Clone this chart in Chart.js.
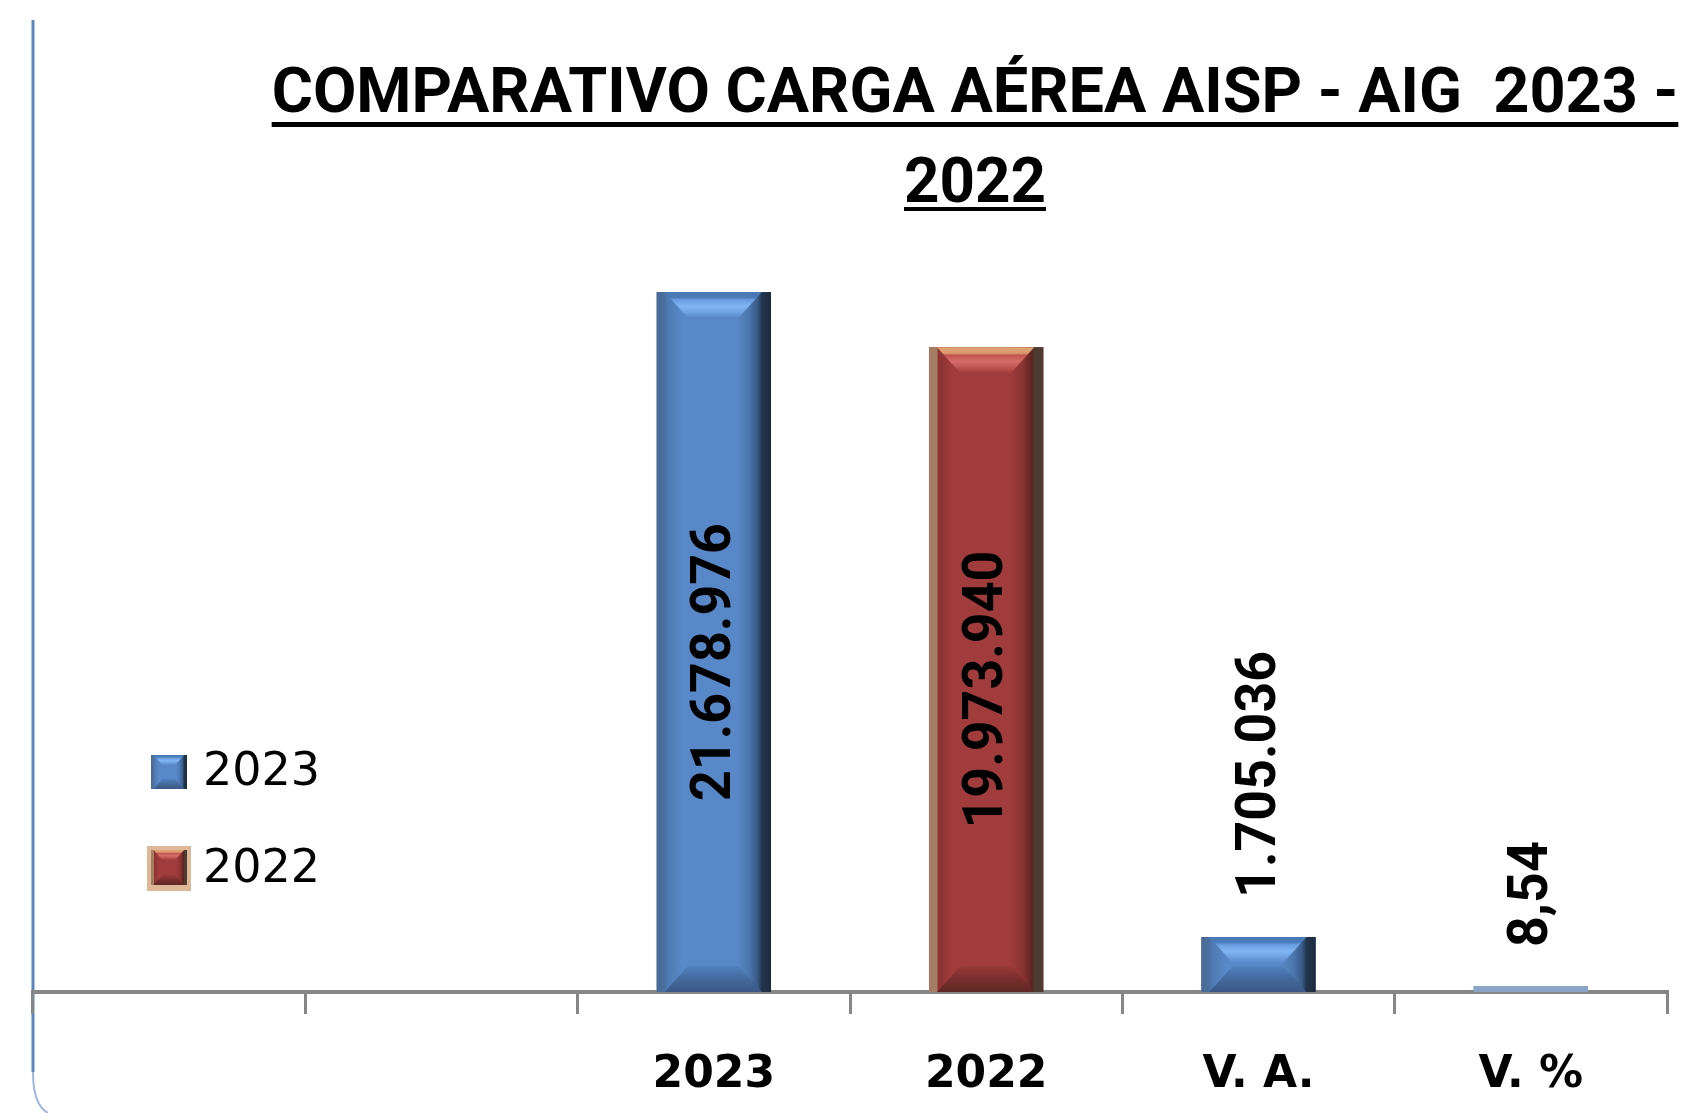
<!DOCTYPE html>
<html><head><meta charset="utf-8">
<script src="https://cdn.jsdelivr.net/npm/chart.js@4.4.1/dist/chart.umd.min.js"></script>
<style>html,body{margin:0;padding:0;background:#fff;overflow:hidden}#wrap{width:1687px;height:1113px;position:relative}canvas{display:block}</style>
</head><body><div id="wrap"><canvas id="c" width="1687" height="1113"></canvas></div>
<script>
// ---- data ----
const categories = ['', '', '2023', '2022', 'V. A.', 'V. %'];
const seriesLabels = ['2023', '2022'];
const series2023 = [null, null, 21678976, null, 1705036, 8.54];
const series2022 = [null, null, null, 19973940, null, null];
const titleLines = ['COMPARATIVO CARGA AÉREA AISP - AIG  2023 -', '2022'];

// ---- styles ----
const PALETTES = {
  blue: {stops:[[0,'#4a6a94'],[0.07,'#4b6f9f'],[0.1,'#4f7bb3'],[0.22,'#5888c8'],[0.7,'#5888c8'],[0.8,'#4d78b0'],[0.88,'#3a5c88'],[0.92,'#22344d'],[1,'#1e2b3e']],
         top:[[0,'#4a79b6'],[0.2,'#4a79b6'],[0.3,'#6a9ee0'],[0.55,'#80b4f3'],[0.8,'#6c9fe0'],[1,'#5888c8']],
         bottom:[[0,'#5181c0'],[0.5,'#44699c'],[1,'#3a5783']], thin:'#8aa5c8'},
  red: {stops:[[0,'#a27b62'],[0.07,'#a57d63'],[0.08,'#8a3230'],[0.2,'#a03c3c'],[0.7,'#a03c3c'],[0.82,'#8a3331'],[0.9,'#5c2321'],[0.92,'#4d3a30'],[1,'#4d3a30']],
        top:[[0,'#e0a675'],[0.22,'#dc9a70'],[0.32,'#c25650'],[0.55,'#d56c6a'],[0.8,'#bb5450'],[1,'#a03c3c']],
        bottom:[[0,'#9a3a3a'],[0.5,'#7a2e2c'],[1,'#5e2826']], thin:'#b06a6a'}
};
const datasetPalette = ['blue', 'red'];

function grad(ctx, x0, y0, x1, y1, stops){
  const g = ctx.createLinearGradient(x0, y0, x1, y1);
  stops.forEach(s => g.addColorStop(s[0], s[1]));
  return g;
}
function drawBevelBox(ctx, l, t, w, h, pal, bev){
  const p = PALETTES[pal];
  if (h < 8) {
    ctx.fillStyle = p.thin; ctx.fillRect(l, t, w, h); return;
  }
  ctx.fillStyle = grad(ctx, l, 0, l + w, 0, p.stops);
  ctx.fillRect(l, t, w, h);
  const b = Math.min(bev, h / 2, w / 3);
  ctx.beginPath();
  ctx.moveTo(l + w * 0.07, t); ctx.lineTo(l + w * 0.92, t);
  ctx.lineTo(l + w * 0.92 - b * 0.9, t + b); ctx.lineTo(l + w * 0.07 + b * 0.9, t + b);
  ctx.closePath();
  ctx.fillStyle = grad(ctx, 0, t, 0, t + b, p.top);
  ctx.fill();
  ctx.beginPath();
  ctx.moveTo(l + w * 0.07, t + h); ctx.lineTo(l + w * 0.92, t + h);
  ctx.lineTo(l + w * 0.92 - b * 0.9, t + h - b); ctx.lineTo(l + w * 0.07 + b * 0.9, t + h - b);
  ctx.closePath();
  ctx.fillStyle = grad(ctx, 0, t + h - b, 0, t + h, p.bottom);
  ctx.fill();
}

const numFmt = new Intl.NumberFormat('de-DE', {maximumFractionDigits: 2});

const framePlugin = {
  id: 'frame',
  beforeDraw(chart){
    const c = chart.ctx;
    c.save();
    c.fillStyle = '#ffffff';
    c.fillRect(0, 0, chart.width, chart.height);
    c.strokeStyle = '#5b87c0'; c.lineWidth = 3;
    c.beginPath(); c.moveTo(33, 20); c.lineTo(33, 1072); c.stroke();
    c.strokeStyle = '#9db8dc'; c.lineWidth = 2;
    c.beginPath(); c.moveTo(33, 1072); c.quadraticCurveTo(33, 1105, 48, 1113); c.stroke();
    c.restore();
  }
};

const titlePlugin = {
  id: 'ulTitle',
  afterDraw(chart){
    const c = chart.ctx;
    c.save();
    c.fillStyle = '#000';
    c.font = 'bold 63px Roboto';
    c.textAlign = 'center'; c.textBaseline = 'alphabetic';
    const cx = 975;
    const maxW = [1407, 142];
    const base = [112, 202];
    const ul = [[122, 5], [207, 4]];
    titleLines.forEach((line, i) => {
      const w = Math.min(c.measureText(line).width, maxW[i]);
      c.fillText(line, cx, base[i], maxW[i]);
      c.fillRect(cx - w / 2, ul[i][0], w, ul[i][1]);
    });
    c.restore();
  }
};

const barStylePlugin = {
  id: 'barStyle',
  afterDatasetsDraw(chart){
    const c = chart.ctx;
    c.save();
    chart.data.datasets.forEach((ds, di) => {
      const meta = chart.getDatasetMeta(di);
      meta.data.forEach((el, i) => {
        if (ds.data[i] === null || ds.data[i] === undefined) return;
        const p = el.getProps(['x', 'y', 'base', 'width'], true);
        const top = Math.min(p.y, p.base), h = Math.abs(p.base - p.y);
        drawBevelBox(c, p.x - p.width / 2, top, p.width, h, datasetPalette[di], 26);
      });
    });
    c.fillStyle = '#000';
    c.font = 'bold 56px Roboto';
    c.textBaseline = 'middle';
    chart.data.datasets.forEach((ds, di) => {
      const meta = chart.getDatasetMeta(di);
      meta.data.forEach((el, i) => {
        const v = ds.data[i];
        if (v === null || v === undefined) return;
        const p = el.getProps(['x', 'y', 'base', 'width'], true);
        const txt = numFmt.format(v);
        const tw = c.measureText(txt).width * 0.96;
        const top = Math.min(p.y, p.base), h = Math.abs(p.base - p.y);
        c.save();
        if (h > tw + 60) {
          c.translate(p.x + 2, top + h / 2 + 20);
          c.rotate(-Math.PI / 2);
          c.textAlign = 'center';
        } else {
          c.translate(p.x + 2, top - 39);
          c.rotate(-Math.PI / 2);
          c.textAlign = 'left';
        }
        c.fillText(txt, 0, 0, tw);
        c.restore();
      });
    });
    c.font = '46px "DejaVu Sans"';
    c.textAlign = 'left'; c.textBaseline = 'middle';
    chart.data.datasets.forEach((ds, di) => {
      const cy = 772 + di * 97;
      if (datasetPalette[di] === 'red') {
        c.fillStyle = '#dcb898';
        c.fillRect(147, cy - 23, 44, 45);
        drawBevelBox(c, 151, cy - 19, 36, 35, datasetPalette[di], 10);
      } else {
        drawBevelBox(c, 151, cy - 17, 36, 34, datasetPalette[di], 10);
      }
      c.fillStyle = '#000';
      c.fillText(ds.label, 203, cy + 1);
    });
    c.restore();
  }
};

new Chart(document.getElementById('c').getContext('2d'), {
  type: 'bar',
  data: {
    labels: categories,
    datasets: [
      {label: seriesLabels[0], data: series2023, backgroundColor: '#5888c8', minBarLength: 6},
      {label: seriesLabels[1], data: series2022, backgroundColor: '#a03c3c'}
    ]
  },
  options: {
    responsive: false,
    animation: false,
    layout: {padding: {top: 201, left: 33, right: 20, bottom: 0}},
    datasets: {bar: {categoryPercentage: 1, barPercentage: 0.42, skipNull: true}},
    plugins: {legend: {display: false}, title: {display: false}, tooltip: {enabled: false}},
    scales: {
      x: {
        stacked: true,
        grid: {offset: true, drawOnChartArea: false, drawTicks: true, tickLength: 22, color: '#868686', lineWidth: 3},
        border: {display: true, color: '#868686', width: 4},
        ticks: {color: '#000', padding: 35, maxRotation: 0, autoSkip: false,
                font: {family: 'DejaVu Sans', size: 44, weight: 'bold'}},
        afterFit: (s) => { s.height = 121; }
      },
      y: {display: false, stacked: true, min: 0, max: 24500000}
    }
  },
  plugins: [framePlugin, barStylePlugin, titlePlugin]
});
</script>
</body></html>
